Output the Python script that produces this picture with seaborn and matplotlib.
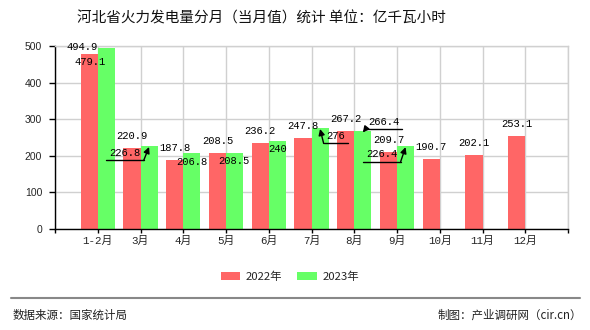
import numpy as np
import pandas as pd
import matplotlib
matplotlib.use("Agg")
import matplotlib.pyplot as plt
from matplotlib.lines import Line2D
from matplotlib.patches import FancyArrowPatch
from matplotlib.transforms import IdentityTransform
import seaborn as sns

# 河北省火力发电量（当月值），亿千瓦小时
months = ["1-2月", "3月", "4月", "5月", "6月", "7月", "8月", "9月", "10月", "11月", "12月"]
values_2022 = [479.1, 220.9, 187.8, 208.5, 236.2, 247.8, 267.2, 209.7, 190.7, 202.1, 253.1]
values_2023 = [494.9, 226.8, 206.8, 208.5, 240, 276, 266.4, 226.4, np.nan, np.nan, np.nan]
series_names = ["2022年", "2023年"]
y_ticks = [0, 100, 200, 300, 400, 500]

# label placement (pixel offsets from the bar top) and which labels use a leader arrow
offsets_2022 = [(1, -8)] + [(0, 12)] * 10
offsets_2023 = [(-24, 1), (-24, -7), (0, -9), (-1, -8), (0, -8), (16, -8), (21, 9.5), (-23.5, -8)]
arrow_2023 = [False, True, False, False, False, True, True, True]

colors = ["#ff6666", "#66ff66"]

sns.set_style("white")
plt.rcParams["font.family"] = ["Noto Sans CJK SC", "DejaVu Sans"]

df = pd.DataFrame({
    "月份": months * 2,
    "年份": [series_names[0]] * len(months) + [series_names[1]] * len(months),
    "发电量": values_2022 + values_2023,
})

fig = plt.figure(figsize=(5.9, 3.3), dpi=100)
ax = fig.add_axes([55 / 590, 101 / 330, 513 / 590, 183 / 330])

sns.barplot(data=df, x="月份", y="发电量", hue="年份", order=months,
            hue_order=series_names, palette=colors, saturation=1,
            width=0.8, ax=ax, linewidth=0)

ax.set_xlim(-1, len(months))
ax.set_ylim(0, 500)
ax.set_xlabel("")
ax.set_ylabel("")
ax.set_xticks(range(-1, len(months) + 1))
ax.set_xticklabels([""] + months + [""], family=["Liberation Mono", "Noto Sans CJK SC"],
                   fontsize=7.8)
ax.set_yticks(y_ticks)
ax.set_yticklabels([str(t) for t in y_ticks], family="Liberation Sans", fontsize=7.5)
ax.grid(True, color="#d0d0d0", lw=1)
ax.set_axisbelow(True)
ax.tick_params(axis="y", direction="out", length=4.3, width=1, color="black", pad=5,
               left=True)
ax.tick_params(axis="x", direction="out", length=3, width=1, color="black", pad=2,
               bottom=True)
for side in ("left", "bottom"):
    ax.spines[side].set_color("black")
    ax.spines[side].set_linewidth(1)
for side in ("top", "right"):
    ax.spines[side].set_color("#d0d0d0")
    ax.spines[side].set_linewidth(1)

# legend below the plot
sns.move_legend(ax, loc="center", bbox_to_anchor=(290 / 590, 1 - 277 / 330),
                bbox_transform=fig.transFigure, ncol=2, frameon=False, title=None,
                handlelength=1.7, handleheight=0.65, handletextpad=0.5,
                columnspacing=1.3, fontsize=8.2)

# value labels
label_font = dict(family=["Liberation Mono", "Noto Sans CJK SC"], fontsize=7.6, color="black")
texts_2023 = []
for container, vals, offs in ((ax.containers[0], values_2022, offsets_2022),
                              (ax.containers[1], values_2023, offsets_2023)):
    shown = [v for v in vals if not np.isnan(v)]
    for bar, v, (dx, dy) in zip(container, shown, offs):
        bx = bar.get_x() + bar.get_width() / 2
        top = bar.get_height()
        t = ax.annotate(f"{v:g}", xy=(bx, top), xytext=(dx, dy),
                        textcoords="offset pixels", ha="center", va="center",
                        **label_font)
        if container is ax.containers[1]:
            texts_2023.append((t, bx, top))

# leader lines: underline the label and point to the bar top
fig.canvas.draw()
renderer = fig.canvas.get_renderer()
for (t, bx, top), use_arrow in zip(texts_2023, arrow_2023):
    if not use_arrow:
        continue
    bb = t.get_window_extent(renderer)
    tx, ty = ax.transData.transform((bx, top))
    cy = (bb.y0 + bb.y1) / 2
    uy = cy - 7.5
    x0, x1 = bb.x0 - 3, bb.x1 + 3
    start = x1 if abs(x1 - tx) < abs(x0 - tx) else x0
    other = x0 if start == x1 else x1
    fig.add_artist(Line2D([other, start], [uy, uy], color="black", lw=1,
                          transform=IdentityTransform()))
    fig.add_artist(FancyArrowPatch((start, uy), (tx, ty - 1), arrowstyle="-|>",
                                   mutation_scale=9, color="black", lw=1,
                                   shrinkA=0, shrinkB=0, transform=IdentityTransform()))

fig.text(261 / 590, 1 - 18 / 330, "河北省火力发电量分月（当月值）统计 单位：亿千瓦小时",
         ha="center", va="center", fontsize=10.5, color="#111111")

# footer
fig.add_artist(Line2D([11 / 590, 580 / 590], [1 - 298 / 330, 1 - 298 / 330],
                      color="#888888", lw=1.5, transform=fig.transFigure))
fig.text(13 / 590, 1 - 315 / 330, "数据来源：国家统计局", ha="left", va="center",
         fontsize=8.3, color="#222222")
fig.text(582 / 590, 1 - 315 / 330, "制图：产业调研网（cir.cn）", ha="right", va="center",
         fontsize=8.3, color="#222222")

fig.savefig("out.png", dpi=100)
